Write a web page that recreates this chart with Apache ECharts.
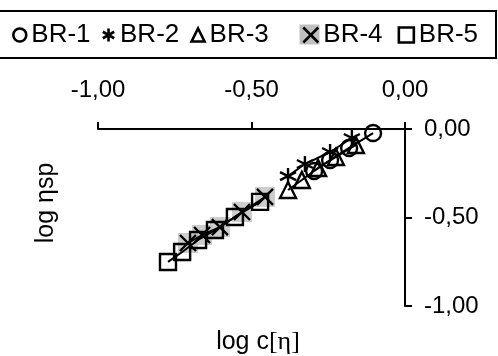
<!DOCTYPE html>
<html><head><meta charset="utf-8">
<script src="https://cdn.jsdelivr.net/npm/echarts@6/dist/echarts.min.js"></script>
<style>html,body{margin:0;padding:0;background:#fff}#c{width:498px;height:356px}</style>
</head><body><div id="c"></div>
<script>
var seriesNames = ['BR-1','BR-2','BR-3','BR-4','BR-5'];
var br1 = [[-0.104,-0.023],[-0.182,-0.107],[-0.244,-0.175],[-0.296,-0.237]];
var br2 = [[-0.173,-0.051],[-0.244,-0.130],[-0.326,-0.198],[-0.381,-0.266]];
var br3 = [[-0.160,-0.090],[-0.225,-0.158],[-0.283,-0.220],[-0.336,-0.288],[-0.381,-0.345]];
var br4 = [[-0.456,-0.384],[-0.531,-0.469],[-0.603,-0.554],[-0.661,-0.599],[-0.707,-0.644]];
var br5 = [[-0.472,-0.412],[-0.554,-0.497],[-0.619,-0.571],[-0.674,-0.627],[-0.726,-0.695],[-0.772,-0.751]];
var xTicks = [-1, -0.5, 0];
var yTicks = [-1, -0.5, 0];

var FONT = '"Liberation Sans", Arial, sans-serif';
var starPath = 'path://M8,0 L8,16 M1,4 L15,12 M1,12 L15,4';
var xPath = 'path://M1,1 L15,15 M15,1 L1,15';
var sym = {
  'BR-1': 'circle', 'BR-2': starPath, 'BR-3': 'triangle', 'BR-4': xPath, 'BR-5': 'rect'
};
var datas = {'BR-1': br1, 'BR-2': br2, 'BR-3': br3, 'BR-4': br4, 'BR-5': br5};
function fmt(v){ return v.toFixed(2).replace('.', ','); }

var series = [];
series.push({
  name: 'BR-4bg', type: 'scatter', data: br4, symbol: 'rect', symbolSize: 20, z: 1,
  itemStyle: {color: '#c0c0c0'}, silent: true
});
seriesNames.forEach(function(n){
  series.push({
    name: n, type: 'line', data: datas[n], symbol: sym[n], symbolSize: 16, z: 3,
    showAllSymbol: true,
    lineStyle: {color: '#000', width: 2},
    itemStyle: {color: 'rgba(0,0,0,0)', borderColor: '#000', borderWidth: 2.4},
    emphasis: {disabled: true}
  });
});

function legendItems(names){
  return names.map(function(n){
    return {name: n, icon: sym[n], itemStyle: {color: 'rgba(0,0,0,0)', borderColor: '#000', borderWidth: 2.6}};
  });
}
var legendText = {fontFamily: FONT, fontSize: 26, color: '#000'};

var chart = echarts.init(document.getElementById('c'), null, {renderer: 'canvas'});
chart.setOption({
  animation: false,
  backgroundColor: '#fff',
  grid: {left: 98, right: 93, top: 129, bottom: 50, containLabel: false},
  legend: [
    {data: legendItems(['BR-1','BR-2','BR-3']), left: 7, top: 17, itemWidth: 13, itemHeight: 13, itemGap: 11, textStyle: legendText, selectedMode: false},
    {data: legendItems(['BR-4','BR-5']), left: 297, top: 17, itemWidth: 15, itemHeight: 15, itemGap: 15, textStyle: legendText, selectedMode: false}
  ],
  xAxis: {
    type: 'value', position: 'top', min: -1, max: 0, interval: 0.5,
    axisLine: {show: true, onZero: false, lineStyle: {color: '#000', width: 2}},
    axisTick: {show: true, length: 7, lineStyle: {color: '#000', width: 2}},
    splitLine: {show: false},
    axisLabel: {formatter: fmt, fontFamily: FONT, fontSize: 24, color: '#000', margin: 27}
  },
  yAxis: {
    type: 'value', position: 'right', min: -1, max: 0, interval: 0.5,
    axisLine: {show: true, onZero: false, lineStyle: {color: '#000', width: 2}},
    axisTick: {show: true, length: 7, lineStyle: {color: '#000', width: 2}},
    splitLine: {show: false},
    axisLabel: {formatter: fmt, fontFamily: FONT, fontSize: 24, color: '#000', margin: 19}
  },
  graphic: [
    {type: 'rect', shape: {x: -3, y: 11, width: 499, height: 47}, style: {fill: 'none', stroke: '#000', lineWidth: 2}, z: 0},
    {type: 'rect', shape: {x: 299.5, y: 24.5, width: 20, height: 20}, style: {fill: '#c0c0c0'}, z: -1},
    {type: 'text', x: 258, y: 342, style: {text: 'log c{s|[η]}', fontFamily: FONT, fontSize: 25, fill: '#000', align: 'center', verticalAlign: 'middle',
      rich: {s: {fontFamily: '"Liberation Serif", serif', fontSize: 26, fill: '#000'}}}},
    {type: 'text', x: 46, y: 203, rotation: Math.PI/2, style: {text: 'log ηsp', fontFamily: FONT, fontSize: 25, fill: '#000', align: 'center', verticalAlign: 'middle'}}
  ],
  series: series
});
</script></body></html>
